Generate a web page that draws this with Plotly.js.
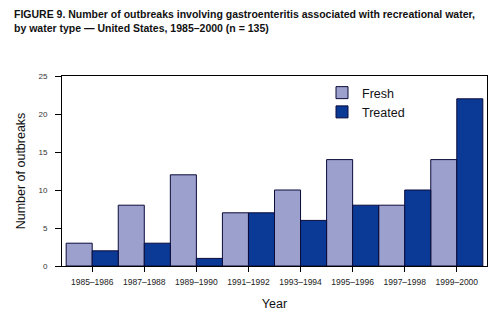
<!DOCTYPE html>
<html>
<head>
<meta charset="utf-8">
<script src="https://cdn.plot.ly/plotly-3.0.1.min.js"></script>
<style>html,body{margin:0;padding:0;background:#fff;}#chart{width:502px;height:322px;}</style>
</head>
<body>
<div id="chart"></div>
<script>
const categories = ["1985–1986","1987–1988","1989–1990","1991–1992","1993–1994","1995–1996","1997–1998","1999–2000"];
const freshValues = [3, 8, 12, 7, 10, 14, 8, 14];
const treatedValues = [2, 3, 1, 7, 6, 8, 10, 22];
const yTicks = [0, 5, 10, 15, 20, 25];

const font = "Liberation Sans, Arial, Helvetica, sans-serif";
const L = 62, R = 15, T = 76, B = 56, W = 502, H = 322;
const pw = W - L - R, ph = H - T - B;
const data = [
  {type: "bar", name: "Fresh", x: categories, y: freshValues,
   marker: {color: "#9ca0cc", line: {color: "#0b0b3a", width: 1}}},
  {type: "bar", name: "Treated", x: categories, y: treatedValues,
   marker: {color: "#0b3a96", line: {color: "#0b0b3a", width: 1}}}
];
const layout = {
  width: W, height: H,
  margin: {l: L, r: R, t: T, b: B},
  paper_bgcolor: "#fff", plot_bgcolor: "#fff",
  font: {family: font, color: "#111"},
  barmode: "group", bargap: 0, bargroupgap: 0,
  showlegend: true,
  legend: {x: (322 - L) / pw, y: (H - B - 78) / ph, xanchor: "left", yanchor: "top",
    font: {size: 12.5, color: "#111"}, bgcolor: "rgba(0,0,0,0)", tracegroupgap: 0},
  annotations: [{
    text: "<b>FIGURE 9. Number of outbreaks involving gastroenteritis associated with recreational water,<br>by water type — United States, 1985–2000 (n = 135)</b>",
    xref: "paper", yref: "paper", x: (12 - L) / pw, y: (H - B - 6) / ph,
    xanchor: "left", yanchor: "top", align: "left", showarrow: false,
    font: {family: font, size: 10.5, color: "#111"}
  }],
  xaxis: {
    type: "category", range: [-0.58, 7.58],
    showline: true, linecolor: "#000", linewidth: 1, mirror: true,
    ticks: "outside", ticklen: 5, tickcolor: "#000",
    tickfont: {size: 8.5, color: "#222"}, ticklabelstandoff: 3,
    showgrid: false, zeroline: false,
    title: {text: "Year", font: {size: 12.5, color: "#111"}, standoff: 13}
  },
  yaxis: {
    range: [0, 25], tickvals: yTicks,
    showline: true, linecolor: "#000", linewidth: 1, mirror: true,
    ticks: "outside", ticklen: 6, tickcolor: "#000",
    tickfont: {size: 8, color: "#333"}, ticklabelstandoff: 6,
    showgrid: false, zeroline: false,
    title: {text: "Number of outbreaks", font: {size: 12.5, color: "#111"}, standoff: 10}
  }
};
Plotly.newPlot("chart", data, layout, {staticPlot: true, displayModeBar: false});
</script>
</body>
</html>
